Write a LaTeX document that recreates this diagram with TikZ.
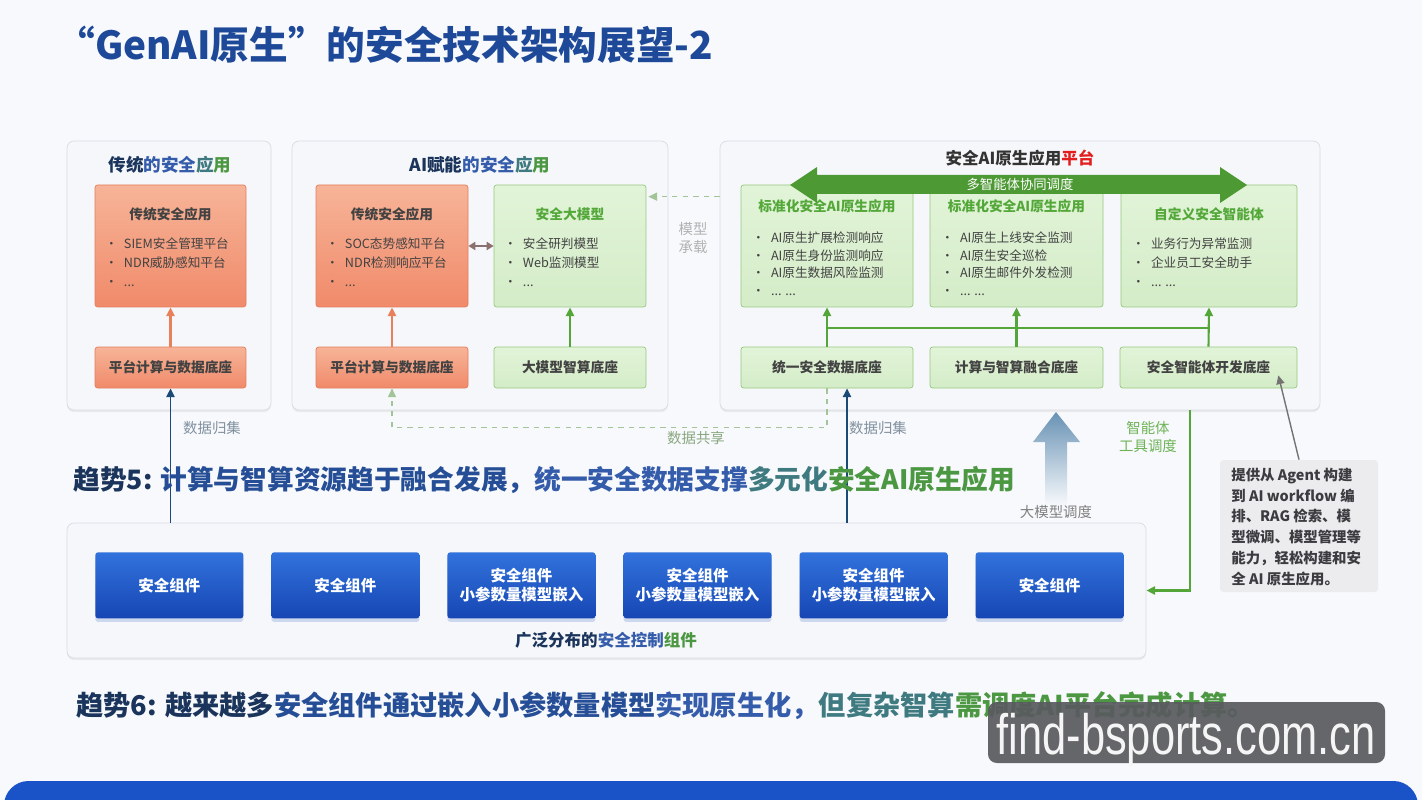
\documentclass[tikz,border=0pt]{standalone}
\usepackage{fontspec}
\setmainfont{Noto Sans CJK SC}
\newfontfamily\wmfont{Liberation Sans}
\usepackage{xcolor}
\usetikzlibrary{arrows.meta, positioning, calc, fit, shadows}

\definecolor{bgcol}{RGB}{247,249,252}
\definecolor{panelfill}{RGB}{246,247,250}
\definecolor{panelline}{RGB}{216,220,228}
\definecolor{orgtop}{RGB}{247,180,152}
\definecolor{orgbot}{RGB}{240,138,106}
\definecolor{orgline}{RGB}{226,126,94}
\definecolor{grntop}{RGB}{226,244,216}
\definecolor{grnbot}{RGB}{212,236,200}
\definecolor{grnline}{RGB}{150,200,128}
\definecolor{grntext}{RGB}{84,168,58}
\definecolor{darktext}{RGB}{66,66,66}
\definecolor{navy}{RGB}{26,52,92}
\definecolor{deepblue}{RGB}{38,78,150}
\definecolor{midblue}{RGB}{52,92,170}
\definecolor{tealish}{RGB}{62,122,128}
\definecolor{leaf}{RGB}{76,152,66}
\definecolor{titleblue}{RGB}{30,72,152}
\definecolor{compA}{RGB}{50,114,220}
\definecolor{compB}{RGB}{22,70,180}
\definecolor{flowblue}{RGB}{28,74,118}
\definecolor{flowgreen}{RGB}{84,166,56}
\definecolor{floworange}{RGB}{232,128,92}
\definecolor{sharegreen}{RGB}{162,196,152}
\definecolor{labelgray}{RGB}{128,144,158}
\definecolor{notefill}{RGB}{236,236,238}
\definecolor{notetext}{RGB}{60,60,64}
\definecolor{bandblue}{RGB}{26,82,200}
\definecolor{wmgray}{RGB}{88,90,94}
\definecolor{uparrow}{RGB}{104,146,180}
\definecolor{linkgray}{RGB}{140,112,112}
\definecolor{alertred}{RGB}{226,30,30}

\newcommand{\itm}{\makebox[0.38cm][l]{•}}

\begin{document}
\begin{tikzpicture}[x=0.02cm, y=-0.02cm,
    % white panels
    panel/.style={draw=panelline, fill=panelfill, rounded corners=4pt, inner sep=0pt,
                  drop shadow={opacity=0.12, shadow xshift=0pt, shadow yshift=-1.2pt}},
    % orange boxes (traditional)
    obox/.style={draw=orgline, top color=orgtop, bottom color=orgbot, rounded corners=1.5pt,
                 inner sep=0pt},
    % green boxes (AI)
    gbox/.style={draw=grnline, top color=grntop, bottom color=grnbot, rounded corners=1.5pt,
                 inner sep=0pt},
    % blue control components
    comp/.style={top color=compA, bottom color=compB, rounded corners=1.5pt,
                 minimum width=2.96cm, minimum height=1.32cm, align=center, text=white,
                 font=\fontsize{8.8}{10.8}\selectfont\bfseries,
                 drop shadow={opacity=0.18, fill=compB, shadow xshift=0pt, shadow yshift=-2pt}},
    boxhead/.style={font=\fontsize{7.8}{9}\selectfont\bfseries, text=darktext},
    basetxt/.style={font=\fontsize{7.8}{9}\selectfont\bfseries, text=darktext},
    items/.style={font=\fontsize{7.2}{10.8}\selectfont, text=darktext, align=left,
                  inner sep=0pt, anchor=west},
    ptitle/.style={font=\fontsize{10}{12}\selectfont\bfseries},
    trend/.style={font=\fontsize{15.2}{18}\selectfont\bfseries, anchor=west, inner sep=0pt},
    lbl/.style={font=\fontsize{8.2}{10.6}\selectfont, align=center},
    notebox/.style={fill=notefill, rounded corners=2pt, inner sep=0pt},
    tip/.style={-{Triangle[length=5pt,width=4.6pt]}},
    dataflow/.style={tip, line width=1.1pt, flowblue},
    orgflow/.style={tip, line width=1.2pt, floworange},
    grnflow/.style={tip, line width=1.2pt, flowgreen},
    grnbus/.style={line width=1.2pt, flowgreen},
    share/.style={tip, dashed, line width=0.8pt, sharegreen},
    linkflow/.style={{Triangle[length=4pt,width=4.6pt]}-{Triangle[length=4pt,width=4.6pt]},
                     line width=1.2pt, linkgray},
    noteflow/.style={tip, line width=0.8pt, black!55}
]
\useasboundingbox (0,0) rectangle (1422,800);
\fill[bgcol] (0,0) rectangle (1422,800);

%-------- TITLE --------
\node[font=\fontsize{22}{24}\selectfont\bfseries, text=titleblue, anchor=west, inner sep=0pt]
    (title) at (56,45) {“GenAI原生”的安全技术架构展望-2};

%-------- PANELS --------
\node[panel, fit={(67,141) (271,410)}]   (trad)  {};
\node[panel, fit={(292,141) (668,410)}]  (aiapp) {};
\node[panel, fit={(720,141) (1320,410)}] (plat)  {};
\node[panel, fit={(67,523) (1146,658)}]  (ctrl)  {};

\node[ptitle] at (170,165)
    {\textcolor{navy}{传统}\textcolor{midblue}{的安全}\textcolor{tealish}{应}\textcolor{leaf}{用}};
\node[ptitle] at (480,165)
    {\textcolor{navy}{AI赋能}\textcolor{midblue}{的安全}\textcolor{tealish}{应}\textcolor{leaf}{用}};
\node[ptitle, font=\fontsize{9.4}{12}\selectfont\bfseries, text=black!80] at (1020,158)
    {安全AI原生应用\textcolor{alertred}{平台}};

%-------- TRADITIONAL --------
\node[obox, fit={(95,185) (246,307)}] (tapp1) {};
\node[boxhead] at ($(tapp1.north)+(0,30)$) {传统安全应用};
\node[items] at ($(tapp1.north west)+(10,78)$)
    {\itm SIEM安全管理平台\\ \itm NDR威胁感知平台\\ \itm ...};
\node[obox, fit={(95,347) (246,388)}] (tbase1) {};
\node[basetxt] at (tbase1.center) {平台计算与数据底座};

%-------- AI ENABLED --------
\node[obox, fit={(316,185) (468,307)}] (tapp2) {};
\node[boxhead] at ($(tapp2.north)+(0,30)$) {传统安全应用};
\node[items] at ($(tapp2.north west)+(10,78)$)
    {\itm SOC态势感知平台\\ \itm NDR检测响应平台\\ \itm ...};
\node[obox, fit={(316,347) (468,388)}] (tbase2) {};
\node[basetxt] at (tbase2.center) {平台计算与数据底座};

\node[gbox, fit={(494,185) (646,307)}] (gmodel) {};
\node[boxhead, text=grntext] at ($(gmodel.north)+(0,30)$) {安全大模型};
\node[items] at ($(gmodel.north west)+(10,78)$)
    {\itm 安全研判模型\\ \itm Web监测模型\\ \itm ...};
\node[gbox, fit={(494,347) (646,388)}] (gbase) {};
\node[basetxt] at (gbase.center) {大模型智算底座};

%-------- NATIVE PLATFORM --------
\node[gbox, fit={(741,185) (913,307)}] (stdA) {};
\node[boxhead, text=grntext] at ($(stdA.north)+(0,22)$) {标准化安全AI原生应用};
\node[items, font=\fontsize{7.2}{10}\selectfont] at ($(stdA.north west)+(11,79)$)
    {\itm AI原生扩展检测响应\\ \itm AI原生身份监测响应\\ \itm AI原生数据风险监测\\ \itm ... ...};

\node[gbox, fit={(930,185) (1103,307)}] (stdB) {};
\node[boxhead, text=grntext] at ($(stdB.north)+(0,22)$) {标准化安全AI原生应用};
\node[items, font=\fontsize{7.2}{10}\selectfont] at ($(stdB.north west)+(11,79)$)
    {\itm AI原生上线安全监测\\ \itm AI原生安全巡检\\ \itm AI原生邮件外发检测\\ \itm ... ...};

\node[gbox, fit={(1121,185) (1297,307)}] (custC) {};
\node[boxhead, text=grntext] at ($(custC.north)+(0,30)$) {自定义安全智能体};
\node[items] at ($(custC.north west)+(11,78)$)
    {\itm 业务行为异常监测\\ \itm 企业员工安全助手\\ \itm ... ...};

\node[gbox, fit={(741,347) (913,388)}]   (ubase) {};
\node[basetxt] at (ubase.center) {统一安全数据底座};
\node[gbox, fit={(930,347) (1103,388)}]  (cbase) {};
\node[basetxt] at (cbase.center) {计算与智算融合底座};
\node[gbox, fit={(1120,347) (1297,388)}] (abase) {};
\node[basetxt] at (abase.center) {安全智能体开发底座};

% multi-agent arrow
\fill[flowgreen!92!black] (790,185) -- (817,167) -- (817,175) -- (1220,175) -- (1220,167)
    -- (1247,185) -- (1220,203) -- (1220,194) -- (817,194) -- (817,203) -- cycle;
\node[font=\fontsize{7.6}{9}\selectfont, text=white] (coop) at (1020,184) {多智能体协同调度};

%-------- CONTROL COMPONENTS --------
\node[comp, anchor=north west] (comp1) at (95,552) {安全组件};
\node[comp, right=0.548cm of comp1] (comp2) {安全组件};
\node[comp, right=0.548cm of comp2] (comp3) {安全组件\\小参数量模型嵌入};
\node[comp, right=0.548cm of comp3] (comp4) {安全组件\\小参数量模型嵌入};
\node[comp, right=0.548cm of comp4] (comp5) {安全组件\\小参数量模型嵌入};
\node[comp, right=0.548cm of comp5] (comp6) {安全组件};
\node[ptitle, font=\fontsize{9.4}{12}\selectfont\bfseries] (ctrltitle) at (606,640)
    {\textcolor{navy}{广泛分布的}\textcolor{midblue}{安全控制}\textcolor{leaf}{组件}};

%-------- NOTE --------
\node[notebox, fit={(1220,460) (1378,592)}] (note) {};
\node[font=\fontsize{8.2}{11.9}\selectfont\bfseries, text=notetext, align=left,
      anchor=west, inner sep=0pt] (notetxt) at (1231,527)
    {提供从 Agent 构建\\到 AI workflow 编\\排、RAG 检索、模\\型微调、模型管理等\\能力，轻松构建和安\\全 AI 原生应用。};

%-------- MODEL DISPATCH ARROW --------
\shade[top color=uparrow, bottom color=bgcol] (1045,505) -- (1045,442) -- (1033,442)
    -- (1056,412) -- (1080,442) -- (1067,442) -- (1067,505) -- cycle;

%-------- ARROWS --------
\draw[orgflow] (tbase1.north) -- (tapp1.south);
\draw[orgflow] (tbase2.north) -- (tapp2.south);
\draw[grnflow] (gbase.north)  -- (gmodel.south);
\draw[linkflow] (tapp2.east)  -- (gmodel.west);

\draw[grnflow] (ubase.north) -- (stdA.south);
\draw[grnflow] (cbase.north) -- (stdB.south);
\draw[grnflow] (abase.north) -- (custC.south);
\draw[grnbus] ($(stdA.south)+(0,21)$) -- ($(custC.south)+(0,21)$);

\coordinate (mload) at ($(gmodel.north east)+(2,12)$);
\draw[share] (plat.west |- mload) -- (mload);
\draw[share] (ubase.south) -- ++(0,39) -| (tbase2.south);

\coordinate (ucol) at ($(ubase.south)+(20,0)$);
\draw[dataflow] (tbase1.south |- ctrl.north) -- (tbase1.south);
\draw[dataflow] (ucol |- ctrl.north) -- (ucol);

\draw[grnflow] ($(plat.south west)+(470,0)$) |- (ctrl.east);
\draw[noteflow] (note.north) -- ($(abase.south east)+(-19,-13)$);

%-------- LABELS --------
\node[lbl, text=labelgray] (collect1) at (212,428) {数据归集};
\node[lbl, text=labelgray] (collect2) at (878,428) {数据归集};
\node[lbl, text=sharegreen!85!black] (sharelbl) at (696,438) {数据共享};
\node[lbl, text=black!30] (loadlbl) at (693,238) {模型\\承载};
\node[lbl, text=flowgreen!85!white] (toollbl) at (1148,437) {智能体\\工具调度};
\node[lbl, text=black!50] (dispatch) at (1056,512) {大模型调度};

%-------- TRENDS --------
\node[trend] (trend5) at (73,480)
    {\textcolor{navy}{趋势5: }\textcolor{deepblue}{计算与智算资源趋于融合发展，}\textcolor{midblue}{统一安全数据支撑}\textcolor{tealish}{多元化}\textcolor{leaf}{安全AI原生应用}};
\node[trend, font=\fontsize{15.5}{18}\selectfont\bfseries] (trend6) at (76,706)
    {\textcolor{navy}{趋势6: 越来越多}\textcolor{deepblue}{安全组件通过嵌入小参数量模型}\textcolor{midblue}{实现原生化，}\textcolor{tealish}{但复杂智算}\textcolor{leaf}{需调度AI平台完成计算。}};

%-------- BOTTOM BAND --------
\fill[bandblue, rounded corners=14pt] (4,781) rectangle (1418,840);

%-------- WATERMARK --------
\node[fill=wmgray, fill opacity=0.92, rounded corners=5pt, inner sep=0pt,
      fit={(988,702) (1385,763)}] (wm) {};
\node[font=\wmfont\fontsize{24}{24}\selectfont, text=white!92!gray, inner sep=0pt]
    (wmtext) at (1186,740) {\scalebox{1.03}[1.35]{find-bsports.com.cn}};

\end{tikzpicture}
\end{document}
